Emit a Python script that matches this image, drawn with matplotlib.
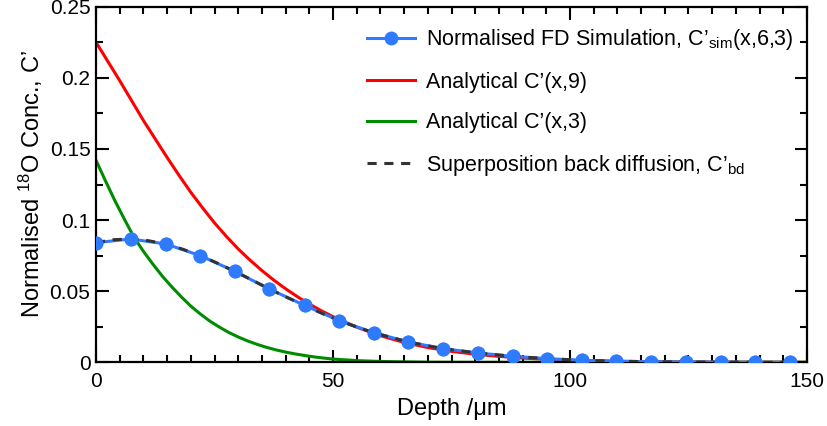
import matplotlib
matplotlib.use("Agg")
import matplotlib.pyplot as plt

plt.rcParams['font.family'] = ['Liberation Sans', 'DejaVu Sans']
plt.rcParams['mathtext.fontset'] = 'custom'
plt.rcParams['mathtext.rm'] = 'Liberation Sans'
plt.rcParams['mathtext.it'] = 'Liberation Sans'

# FD simulation points
sim_depth = [0, 7.3, 14.7, 22.0, 29.3, 36.6, 44.0, 51.3, 58.6, 65.9, 73.2,
             80.5, 87.9, 95.2, 102.5, 109.8, 117.1, 124.5, 131.8, 139.1, 146.4]
sim_conc = [0.0841, 0.0867, 0.0832, 0.0750, 0.0639, 0.0515, 0.0400, 0.0293,
            0.0208, 0.0143, 0.0096, 0.0066, 0.0042, 0.0026, 0.0014, 0.0008,
            0.0004, 0.0002, 0.0001, 0.0, 0.0]

# superposition back diffusion
bd_depth = [0, 3.7, 7.3, 11.0, 14.7, 18.3, 22.0, 25.6, 29.3, 33.0, 36.6, 40.3,
            44.0, 47.6, 51.3, 55.0, 58.6, 65.9, 73.2, 80.5, 87.9, 95.2, 102.5,
            109.8, 117.1, 124.5, 131.8, 139.1, 146.4]
bd_conc = [0.0841, 0.0862, 0.0867, 0.0855, 0.0832, 0.0795, 0.0750, 0.0697,
           0.0639, 0.0577, 0.0515, 0.0456, 0.0400, 0.0345, 0.0293, 0.0248,
           0.0208, 0.0143, 0.0096, 0.0066, 0.0042, 0.0026, 0.0014, 0.0008,
           0.0004, 0.0002, 0.0001, 0.0, 0.0]

# analytical C'(x,9)
an9_depth = [0, 2.5, 5, 7.5, 10, 12.5, 15, 17.5, 20, 22.5, 25, 27.5, 30, 32.5,
             35, 37.5, 40, 42.5, 45, 47.5, 50, 55, 60, 65, 70, 75, 80, 85, 90,
             95, 100, 110, 120, 130, 150]
an9_conc = [0.225, 0.2115, 0.198, 0.184, 0.170, 0.157, 0.144, 0.1315, 0.1195,
            0.1085, 0.098, 0.0885, 0.0797, 0.0718, 0.0645, 0.0578, 0.0517,
            0.0461, 0.041, 0.0363, 0.0321, 0.0247, 0.0187, 0.0140, 0.0104,
            0.0077, 0.0057, 0.0042, 0.0030, 0.0021, 0.0015, 0.0007, 0.0003,
            0.0001, 0.0]

# analytical C'(x,3)
an3_depth = [0, 2, 4, 6, 8, 10, 12, 14, 16, 18, 20, 22, 24, 26, 28, 30, 32,
             34, 36, 38, 40, 42, 44, 46, 48, 50, 55, 60, 70, 80, 150]
an3_conc = [0.142, 0.1275, 0.1135, 0.1005, 0.088, 0.078, 0.069, 0.0605,
            0.053, 0.046, 0.0395, 0.034, 0.029, 0.0248, 0.021, 0.0178, 0.015,
            0.0126, 0.0105, 0.0087, 0.0072, 0.0059, 0.0048, 0.0038, 0.003,
            0.0023, 0.0012, 0.0006, 0.0001, 0.0, 0.0]

fig = plt.figure(figsize=(8.27, 4.26), dpi=100)
ax = fig.add_axes([0.1161, 0.1495, 0.8597, 0.8348])

blue = '#2f7bff'
ax.plot(an9_depth, an9_conc, color='#ff0000', lw=2.2, zorder=2,
        label="Analytical C’(x,9)")
ax.plot(an3_depth, an3_conc, color='#008c00', lw=2.2, zorder=2,
        label="Analytical C’(x,3)")
ax.plot(sim_depth, sim_conc, color=blue, lw=2.2, marker='o', ms=9,
        zorder=3, label="Normalised FD Simulation, C’$_{\\mathrm{sim}}$(x,6,3)")
ax.plot(bd_depth, bd_conc, color='#333333', lw=2.2, ls=(0, (3, 2.5)),
        zorder=4, label="Superposition back diffusion, C’$_{\\mathrm{bd}}$")
ax.plot(sim_depth, sim_conc, ls='none', marker='o', ms=9, color=blue,
        zorder=5)

ax.set_xlim(0, 150)
ax.set_ylim(0, 0.25)
ax.set_xticks([0, 50, 100, 150])
ax.set_xticks(range(0, 151, 5), minor=True)
ax.set_yticks([0, 0.05, 0.1, 0.15, 0.2, 0.25])
ax.set_yticklabels(['0', '0.05', '0.1', '0.15', '0.2', '0.25'])
ax.set_yticks([0.025, 0.075, 0.125, 0.175, 0.225], minor=True)
ax.tick_params(which='both', direction='in', top=True, right=True,
               labelsize=15, width=1.5)
ax.tick_params(which='major', length=9, pad=4)
ax.tick_params(axis='x', which='major', pad=7)
ax.tick_params(which='minor', length=5)
for s in ax.spines.values():
    s.set_linewidth(1.6)

ax.set_xlabel('Depth /μm', fontsize=17, labelpad=5)
ax.set_ylabel('Normalised $^{18}$O Conc., C’', fontsize=17, labelpad=3)

h, l = ax.get_legend_handles_labels()
order = [2, 0, 1, 3]
ax.legend([h[i] for i in order], [l[i] for i in order], loc='upper right',
          bbox_to_anchor=(1.008, 0.996), frameon=False, fontsize=15.5,
          handlelength=2.2, labelspacing=0.9, handletextpad=0.5)

fig.savefig('out.png', dpi=100)
